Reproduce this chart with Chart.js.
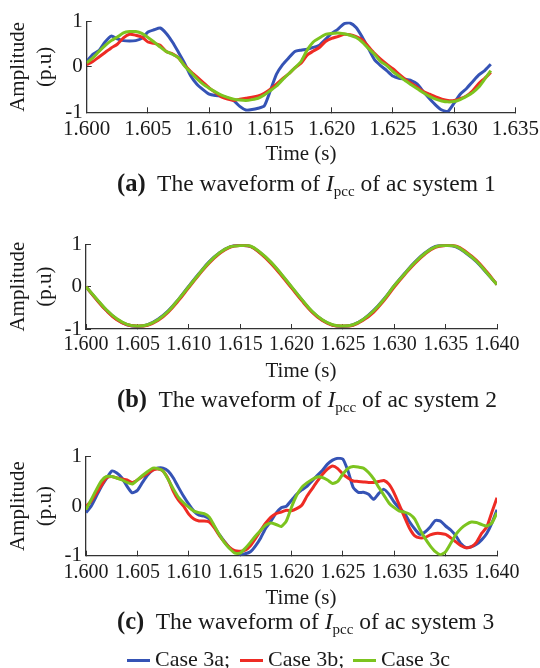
<!DOCTYPE html>
<html>
<head>
<meta charset="utf-8">
<script src="https://cdn.jsdelivr.net/npm/chart.js@4.4.0/dist/chart.umd.min.js"></script>
<style>
  html, body { margin: 0; padding: 0; background: #fff; }
  #page { position: relative; width: 540px; height: 668px; overflow: hidden; background: #fff;
          font-family: "Liberation Serif", "Times New Roman", "DejaVu Serif", serif; color: #1a1a1a; }
  #page canvas { position: absolute; left: 0; }
  .txt { position: absolute; white-space: nowrap; line-height: 1; }
  .xtitle { font-size: 21px; transform: translateX(-50%); }
  .caption { font-size: 23.5px; }
  .caption b { font-size: 24.5px; margin-right: 6px; }
  .caption sub { font-size: 15px; vertical-align: -5px; line-height: 0; }
  .legend-item { font-size: 22px; }
  .swatch { display: inline-block; width: 23px; height: 3px; vertical-align: 4px; margin-right: 5px; }
</style>
</head>
<body>
<div id="page">
  <canvas id="chartA"></canvas>
  <canvas id="chartB"></canvas>
  <canvas id="chartC"></canvas>
</div>
<script>
// series shared by the three panels
const seriesNames = ['Case 3a', 'Case 3b', 'Case 3c']
const seriesColors = ['#3553b5', '#ee2b24', '#7cc41f']
const yTicks = [-1, 0, 1]

// (a) ac system 1, sampled every 0.5 ms
const timeA = [
  1.6000, 1.6005, 1.6010, 1.6015, 1.6020, 1.6025, 1.6030, 1.6035, 1.6040, 1.6045,
  1.6050, 1.6055, 1.6060, 1.6065, 1.6070, 1.6075, 1.6080, 1.6085, 1.6090, 1.6095,
  1.6100, 1.6105, 1.6110, 1.6115, 1.6120, 1.6125, 1.6130, 1.6135, 1.6140, 1.6145,
  1.6150, 1.6155, 1.6160, 1.6165, 1.6170, 1.6175, 1.6180, 1.6185, 1.6190, 1.6195,
  1.6200, 1.6205, 1.6210, 1.6215, 1.6220, 1.6225, 1.6230, 1.6235, 1.6240, 1.6245,
  1.6250, 1.6255, 1.6260, 1.6265, 1.6270, 1.6275, 1.6280, 1.6285, 1.6290, 1.6295,
  1.6300, 1.6305, 1.6310, 1.6315, 1.6320, 1.6325, 1.6330
]
const blueA = [
  0.12, 0.28, 0.36, 0.55, 0.68, 0.62, 0.58, 0.57, 0.58, 0.63,
  0.77, 0.82, 0.86, 0.74, 0.55, 0.32, 0.08, -0.2, -0.38, -0.5,
  -0.6, -0.63, -0.64, -0.68, -0.74, -0.87, -0.95, -0.94, -0.91, -0.86,
  -0.52, -0.16, 0.05, 0.2, 0.34, 0.37, 0.39, 0.43, 0.48, 0.61,
  0.74, 0.83, 0.95, 0.97, 0.87, 0.66, 0.41, 0.16, 0.03, -0.08,
  -0.2, -0.25, -0.27, -0.3, -0.38, -0.55, -0.7, -0.84, -0.95, -0.98,
  -0.8, -0.6, -0.48, -0.33, -0.18, -0.08, 0.06
]
const redA = [
  0.05, 0.12, 0.22, 0.32, 0.42, 0.5, 0.64, 0.72, 0.7, 0.66,
  0.55, 0.52, 0.48, 0.34, 0.29, 0.2, 0.03, -0.1, -0.22, -0.34,
  -0.46, -0.56, -0.66, -0.71, -0.74, -0.71, -0.69, -0.67, -0.64, -0.58,
  -0.49, -0.38, -0.26, -0.15, -0.02, 0.08, 0.26, 0.35, 0.43, 0.56,
  0.63, 0.67, 0.72, 0.71, 0.67, 0.6, 0.45, 0.3, 0.17, 0.06,
  -0.04, -0.16, -0.27, -0.36, -0.45, -0.54, -0.6, -0.66, -0.71, -0.74,
  -0.74, -0.7, -0.64, -0.53, -0.37, -0.25, -0.12
]
const greenA = [
  0.09, 0.2, 0.34, 0.47, 0.58, 0.66, 0.75, 0.78, 0.78, 0.74,
  0.65, 0.55, 0.44, 0.34, 0.28, 0.2, 0.02, -0.12, -0.26, -0.38,
  -0.47, -0.55, -0.62, -0.67, -0.71, -0.73, -0.74, -0.72, -0.69, -0.62,
  -0.52, -0.42, -0.28, -0.15, -0.02, 0.12, 0.37, 0.55, 0.64, 0.72,
  0.74, 0.75, 0.73, 0.7, 0.65, 0.55, 0.41, 0.28, 0.12, 0.03,
  -0.1, -0.2, -0.3, -0.39, -0.48, -0.57, -0.65, -0.71, -0.75, -0.77,
  -0.76, -0.72, -0.65, -0.57, -0.45, -0.27, -0.08
]

// (b) ac system 2, sampled every 1 ms
const timeB = [
  1.600, 1.601, 1.602, 1.603, 1.604, 1.605, 1.606, 1.607, 1.608, 1.609,
  1.610, 1.611, 1.612, 1.613, 1.614, 1.615, 1.616, 1.617, 1.618, 1.619,
  1.620, 1.621, 1.622, 1.623, 1.624, 1.625, 1.626, 1.627, 1.628, 1.629,
  1.630, 1.631, 1.632, 1.633, 1.634, 1.635, 1.636, 1.637, 1.638, 1.639,
  1.640
]
const blueB = [
  0.0, -0.29, -0.56, -0.77, -0.9, -0.94, -0.9, -0.77, -0.57, -0.3,
  0.01, 0.31, 0.59, 0.8, 0.94, 0.97, 0.95, 0.79, 0.57, 0.29,
  -0.01, -0.31, -0.59, -0.79, -0.91, -0.94, -0.9, -0.77, -0.56, -0.29,
  0.02, 0.31, 0.58, 0.8, 0.95, 0.97, 0.94, 0.79, 0.59, 0.32,
  0.05
]
const redB = [
  0.0, -0.3, -0.57, -0.78, -0.9, -0.93, -0.91, -0.8, -0.6, -0.33,
  -0.02, 0.28, 0.56, 0.78, 0.93, 0.97, 0.95, 0.78, 0.55, 0.27,
  -0.03, -0.33, -0.6, -0.8, -0.91, -0.93, -0.91, -0.79, -0.6, -0.33,
  -0.01, 0.28, 0.55, 0.77, 0.93, 0.97, 0.96, 0.82, 0.62, 0.35,
  0.05
]
const greenB = [
  0.0, -0.28, -0.55, -0.76, -0.89, -0.93, -0.9, -0.78, -0.58, -0.3,
  0.0, 0.3, 0.58, 0.8, 0.94, 0.97, 0.96, 0.8, 0.58, 0.3,
  0.0, -0.3, -0.58, -0.78, -0.9, -0.93, -0.9, -0.77, -0.57, -0.3,
  0.02, 0.3, 0.57, 0.79, 0.94, 0.97, 0.95, 0.8, 0.6, 0.33,
  0.05
]

// (c) ac system 3, sampled every 0.5 ms
const timeC = [
  1.6000, 1.6005, 1.6010, 1.6015, 1.6020, 1.6025, 1.6030, 1.6035, 1.6040, 1.6045,
  1.6050, 1.6055, 1.6060, 1.6065, 1.6070, 1.6075, 1.6080, 1.6085, 1.6090, 1.6095,
  1.6100, 1.6105, 1.6110, 1.6115, 1.6120, 1.6125, 1.6130, 1.6135, 1.6140, 1.6145,
  1.6150, 1.6155, 1.6160, 1.6165, 1.6170, 1.6175, 1.6180, 1.6185, 1.6190, 1.6195,
  1.6200, 1.6205, 1.6210, 1.6215, 1.6220, 1.6225, 1.6230, 1.6235, 1.6240, 1.6245,
  1.6250, 1.6255, 1.6260, 1.6265, 1.6270, 1.6275, 1.6280, 1.6285, 1.6290, 1.6295,
  1.6300, 1.6305, 1.6310, 1.6315, 1.6320, 1.6325, 1.6330, 1.6335, 1.6340, 1.6345,
  1.6350, 1.6355, 1.6360, 1.6365, 1.6370, 1.6375, 1.6380, 1.6385, 1.6390, 1.6395,
  1.6400
]
const blueC = [
  -0.13, 0.0, 0.2, 0.4, 0.56, 0.71, 0.67, 0.57, 0.4, 0.27,
  0.32, 0.48, 0.63, 0.73, 0.77, 0.77, 0.71, 0.57, 0.38, 0.2,
  0.04, -0.1, -0.18, -0.2, -0.26, -0.42, -0.58, -0.72, -0.85, -0.92,
  -0.97, -0.96, -0.92, -0.8, -0.64, -0.44, -0.3, -0.14, -0.03, 0.0,
  0.12, 0.24, 0.33, 0.4, 0.51, 0.62, 0.72, 0.85, 0.93, 0.97,
  0.95, 0.71, 0.38, 0.28, 0.28, 0.24, 0.14, 0.26, 0.34, 0.24,
  0.08, -0.04, -0.14, -0.32, -0.46, -0.57, -0.52, -0.42, -0.29, -0.3,
  -0.4, -0.48, -0.6, -0.76, -0.84, -0.82, -0.77, -0.68, -0.55, -0.34,
  -0.07
]
const redC = [
  0.0, 0.1, 0.26, 0.42, 0.57, 0.6, 0.57, 0.55, 0.53, 0.48,
  0.53, 0.6, 0.66, 0.73, 0.75, 0.71, 0.55, 0.3, 0.12, 0.0,
  -0.16, -0.26, -0.3, -0.3, -0.32, -0.44, -0.6, -0.73, -0.84, -0.9,
  -0.91, -0.89, -0.8, -0.65, -0.49, -0.34, -0.22, -0.15, -0.12, -0.08,
  -0.09, -0.05, 0.02, 0.2, 0.35, 0.5, 0.64, 0.75, 0.81, 0.76,
  0.65, 0.57, 0.51, 0.5, 0.49, 0.48, 0.48, 0.5, 0.52, 0.44,
  0.26, 0.02, -0.22, -0.45, -0.6, -0.64, -0.63, -0.58, -0.55, -0.55,
  -0.57, -0.64, -0.72, -0.8, -0.84, -0.82, -0.73, -0.55, -0.42, -0.12,
  0.17
]
const greenC = [
  -0.07, 0.13, 0.33, 0.51, 0.6, 0.6, 0.57, 0.53, 0.48, 0.45,
  0.53, 0.62, 0.7, 0.77, 0.76, 0.71, 0.54, 0.35, 0.18, 0.07,
  -0.02, -0.1, -0.13, -0.15, -0.22, -0.4, -0.58, -0.74, -0.86, -0.95,
  -0.95, -0.85, -0.73, -0.6, -0.49, -0.38, -0.34, -0.37, -0.41, -0.3,
  -0.02, 0.22, 0.38, 0.47, 0.54, 0.59, 0.58, 0.53, 0.46, 0.5,
  0.65, 0.76, 0.8, 0.79, 0.77, 0.68, 0.55, 0.38, 0.22, 0.06,
  -0.03, -0.1, -0.12, -0.16, -0.26, -0.47, -0.65, -0.8, -0.92, -0.98,
  -0.92, -0.75, -0.57, -0.45, -0.37, -0.32, -0.33, -0.37, -0.4, -0.34,
  -0.13
]

const FONT = '"Liberation Serif", "Times New Roman", serif'
const INK = '#1a1a1a'
const AXIS = '#333333'
Chart.defaults.font.family = FONT
Chart.defaults.color = INK

// box: canvas top/height and where the plot area sits on the page
function makePanel(id, times, series, xMax, box) {
  const canvas = document.getElementById(id)
  canvas.width = 540
  canvas.height = box.height
  canvas.style.top = box.top + 'px'

  return new Chart(canvas, {
    type: 'line',
    data: {
      labels: times,
      datasets: series.map((vals, k) => ({
        label: seriesNames[k],
        data: vals,
        borderColor: seriesColors[k],
        backgroundColor: seriesColors[k],
        borderWidth: 3,
        pointRadius: 0,
        tension: box.tension,
        fill: false,
        order: series.length - k  // green on top
      }))
    },
    options: {
      responsive: false,
      animation: false,
      events: [],
      layout: {
        padding: { left: 0, right: 540 - box.right, top: box.plotTop - box.top, bottom: 0 }
      },
      plugins: { legend: { display: false }, tooltip: { enabled: false } },
      scales: {
        x: {
          type: 'linear',
          min: 1.6,
          max: xMax,
          grid: { drawOnChartArea: false, drawTicks: true, tickLength: -5, color: AXIS, lineWidth: 1 },
          border: { display: true, color: AXIS, width: 1.3 },
          ticks: {
            stepSize: 0.005,
            autoSkip: false,
            maxRotation: 0,
            minRotation: 0,
            padding: box.tickPad,
            color: INK,
            font: { size: box.tickSize },
            callback: v => v.toFixed(3)
          },
          afterFit: s => {
            s.height = box.top + box.height - box.plotBottom
            s.paddingLeft = 0
            s.paddingRight = 0
          }
        },
        y: {
          min: -1,
          max: 1,
          afterBuildTicks: s => { s.ticks = yTicks.map(v => ({ value: v })) },
          grid: { drawOnChartArea: false, drawTicks: true, tickLength: -5, color: AXIS, lineWidth: 1 },
          border: { display: true, color: AXIS, width: 1.3 },
          ticks: { padding: 9, color: INK, font: { size: 21 } },
          title: {
            display: true,
            text: ['Amplitude', '(p.u)'],
            color: INK,
            font: { size: 21, lineHeight: 27 / 21 },
            padding: { top: 4.5, bottom: 0 }
          },
          afterFit: s => { s.width = box.left }
        }
      }
    }
  })
}

makePanel('chartA', timeA, [blueA, redA, greenA], 1.635,
  { top: 0, height: 170, left: 86.7, right: 515.3, plotTop: 19.3, plotBottom: 112.3, tickPad: 9.5, tickSize: 21, tension: 0.2 })
makePanel('chartB', timeB, [blueB, redB, greenB], 1.64,
  { top: 200, height: 170, left: 86, right: 497, plotTop: 244.3, plotBottom: 329, tickPad: 8.5, tickSize: 20, tension: 0.4 })
makePanel('chartC', timeC, [blueC, redC, greenC], 1.64,
  { top: 420, height: 180, left: 86, right: 497, plotTop: 456.7, plotBottom: 555.7, tickPad: 10.5, tickSize: 20, tension: 0.2 })

// axis titles and captions under each panel (baseline positions)
const page = document.getElementById('page')
function addText(cls, html, left, baseline, size) {
  const d = document.createElement('div')
  d.className = 'txt ' + cls
  d.innerHTML = html
  d.style.left = left + 'px'
  d.style.top = (baseline - 0.8375 * size) + 'px'
  page.appendChild(d)
  return d
}
const captions = ['(a)', '(b)', '(c)']
const systems = ['1', '2', '3']
const titleBase = [161, 378, 605]
const captionBase = [190.7, 406.7, 628.3]
for (let i = 0; i < 3; i++) {
  addText('xtitle', 'Time (s)', 301, titleBase[i], 21)
  addText('caption', '<b>' + captions[i] + '</b> The waveform of <i>I</i><sub>pcc</sub> of ac system ' + systems[i],
    117, captionBase[i], 23.5)
}

// legend row at the bottom
const legendLeft = [127, 240, 353]
seriesNames.forEach((name, k) => {
  const sep = k < seriesNames.length - 1 ? ';' : ''
  addText('legend-item', '<span class="swatch" style="background:' + seriesColors[k] + '"></span>' + name + sep,
    legendLeft[k], 666, 22)
})
</script>
</body>
</html>
